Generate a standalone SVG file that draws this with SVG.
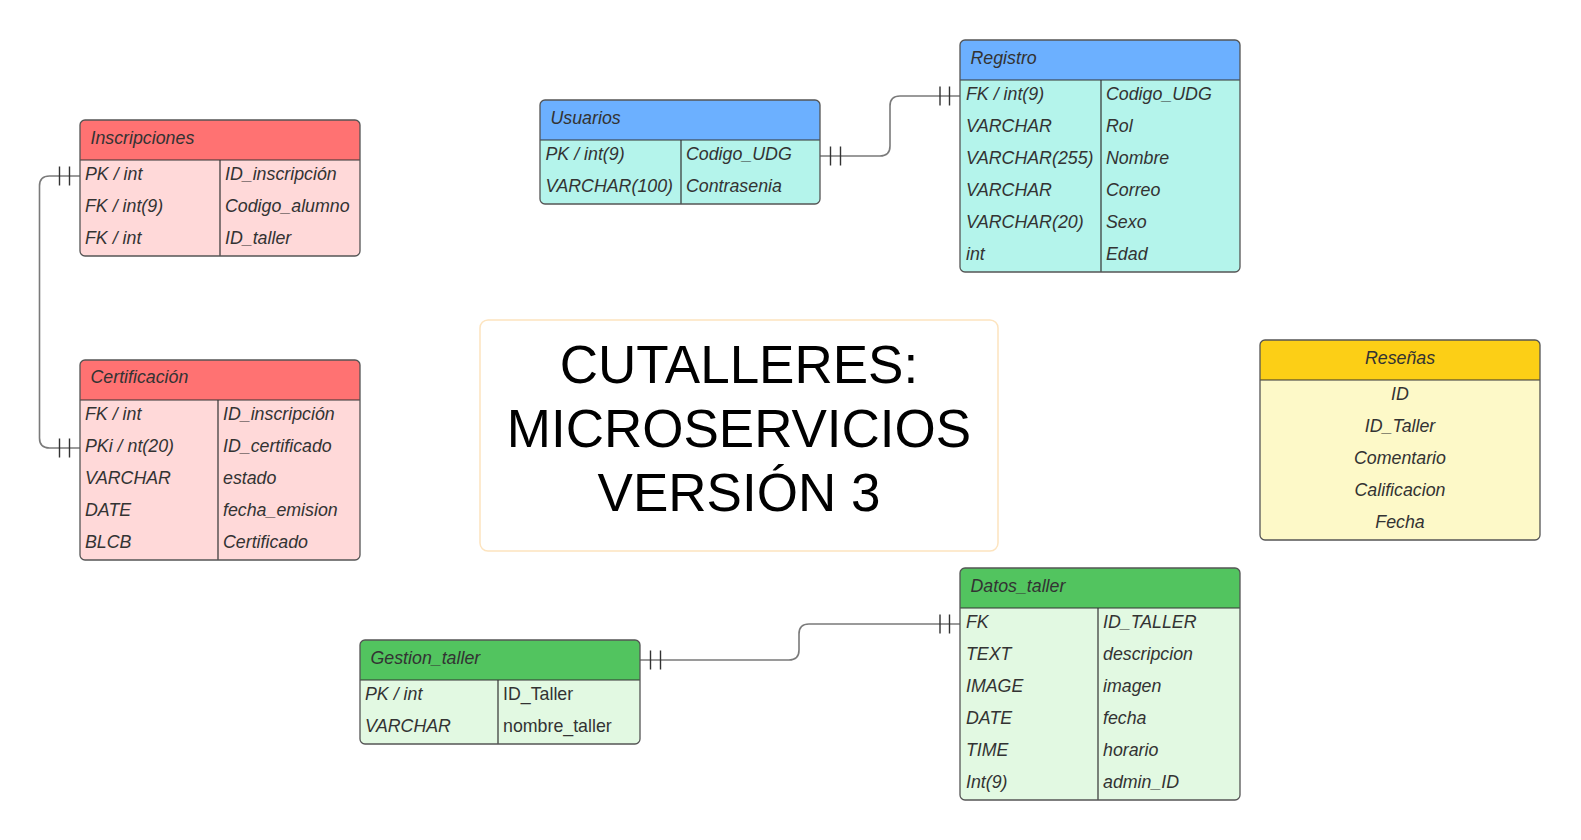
<svg xmlns="http://www.w3.org/2000/svg" width="1581" height="840" viewBox="0 0 1581 840">
<style>
.t{font-family:"Liberation Sans",Arial,sans-serif;font-size:17.8px;font-style:italic;fill:#333}
.n{font-style:normal}
.c{text-anchor:middle}
.out{fill:none;stroke:#555;stroke-width:1.3}
.ln{stroke:#333;stroke-width:1.2;fill:none}
.conn{fill:none;stroke:#7a7a7a;stroke-width:1.6}
.tick{stroke:#333;stroke-width:1.4}
.title{font-family:"Liberation Sans",Arial,sans-serif;font-size:53px;fill:#000;text-anchor:middle}
</style>
<rect width="1581" height="840" fill="#fff"/>

<g id="connectors">
<path class="conn" d="M80,176 H49.5 Q39.5,176 39.5,186 V438 Q39.5,448 49.5,448 H80"/>
<path class="tick" d="M59.5,166.5 V185.5 M69.5,166.5 V185.5 M59.5,438.5 V457.5 M69.5,438.5 V457.5"/>
<path class="conn" d="M820,156 H880 Q890,156 890,146 V106 Q890,96 900,96 H960"/>
<path class="tick" d="M830.5,146.5 V165.5 M840.5,146.5 V165.5 M940,86.5 V105.5 M949.5,86.5 V105.5"/>
<path class="conn" d="M640,660 H789 Q799,660 799,650 V634 Q799,624 809,624 H960"/>
<path class="tick" d="M650.5,650.5 V669.5 M660.5,650.5 V669.5 M940,614.5 V633.5 M949.5,614.5 V633.5"/>
</g>

<g id="title">
<rect x="480" y="320" width="518" height="231" rx="8" fill="#fff" stroke="#fde4bf" stroke-width="1.5"/>
<text class="title" x="739" y="382.5">CUTALLERES:</text>
<text class="title" x="739" y="446.5">MICROSERVICIOS</text>
<text class="title" x="739" y="510.5">VERSIÓN 3</text>
</g>

<g id="inscripciones">
<rect x="80" y="120" width="280" height="136" rx="5" fill="#FFD9D9"/>
<path d="M80,160 V125 Q80,120 85,120 H355 Q360,120 360,125 V160 Z" fill="#FF7272"/>
<path class="ln" d="M80,160 H360 M220,160 V256"/>
<rect class="out" x="80" y="120" width="280" height="136" rx="5"/>
<text class="t" x="90.5" y="144">Inscripciones</text>
<text class="t" x="85" y="179.5">PK / int</text><text class="t" x="225" y="179.5">ID_inscripción</text>
<text class="t" x="85" y="211.5">FK / int(9)</text><text class="t" x="225" y="211.5">Codigo_alumno</text>
<text class="t" x="85" y="243.5">FK / int</text><text class="t" x="225" y="243.5">ID_taller</text>
</g>

<g id="certificacion">
<rect x="80" y="360" width="280" height="200" rx="5" fill="#FFD9D9"/>
<path d="M80,400 V365 Q80,360 85,360 H355 Q360,360 360,365 V400 Z" fill="#FF7272"/>
<path class="ln" d="M80,400 H360 M218,400 V560"/>
<rect class="out" x="80" y="360" width="280" height="200" rx="5"/>
<text class="t" x="90.5" y="383">Certificación</text>
<text class="t" x="85" y="419.5">FK / int</text><text class="t" x="223" y="419.5">ID_inscripción</text>
<text class="t" x="85" y="451.5">PKi / nt(20)</text><text class="t" x="223" y="451.5">ID_certificado</text>
<text class="t" x="85" y="483.5">VARCHAR</text><text class="t" x="223" y="483.5">estado</text>
<text class="t" x="85" y="515.5">DATE</text><text class="t" x="223" y="515.5">fecha_emision</text>
<text class="t" x="85" y="547.5">BLCB</text><text class="t" x="223" y="547.5">Certificado</text>
</g>

<g id="usuarios">
<rect x="540" y="100" width="280" height="104" rx="5" fill="#B4F4EB"/>
<path d="M540,140 V105 Q540,100 545,100 H815 Q820,100 820,105 V140 Z" fill="#6CB0FF"/>
<path class="ln" d="M540,140 H820 M681,140 V204"/>
<rect class="out" x="540" y="100" width="280" height="104" rx="5"/>
<text class="t" x="550.5" y="124">Usuarios</text>
<text class="t" x="545.5" y="159.5">PK / int(9)</text><text class="t" x="686" y="159.5">Codigo_UDG</text>
<text class="t" x="545.5" y="191.5">VARCHAR(100)</text><text class="t" x="686" y="191.5">Contrasenia</text>
</g>

<g id="registro">
<rect x="960" y="40" width="280" height="232" rx="5" fill="#B4F4EB"/>
<path d="M960,80 V45 Q960,40 965,40 H1235 Q1240,40 1240,45 V80 Z" fill="#6CB0FF"/>
<path class="ln" d="M960,80 H1240 M1101,80 V272"/>
<rect class="out" x="960" y="40" width="280" height="232" rx="5"/>
<text class="t" x="970.5" y="64">Registro</text>
<text class="t" x="966" y="99.5">FK / int(9)</text><text class="t" x="1106" y="99.5">Codigo_UDG</text>
<text class="t" x="966" y="131.5">VARCHAR</text><text class="t" x="1106" y="131.5">Rol</text>
<text class="t" x="966" y="163.5">VARCHAR(255)</text><text class="t" x="1106" y="163.5">Nombre</text>
<text class="t" x="966" y="195.5">VARCHAR</text><text class="t" x="1106" y="195.5">Correo</text>
<text class="t" x="966" y="227.5">VARCHAR(20)</text><text class="t" x="1106" y="227.5">Sexo</text>
<text class="t" x="966" y="259.5">int</text><text class="t" x="1106" y="259.5">Edad</text>
</g>

<g id="resenas">
<rect x="1260" y="340" width="280" height="200" rx="5" fill="#FDF9C8"/>
<path d="M1260,380 V345 Q1260,340 1265,340 H1535 Q1540,340 1540,345 V380 Z" fill="#FCCF16"/>
<path class="ln" d="M1260,380 H1540"/>
<rect class="out" x="1260" y="340" width="280" height="200" rx="5"/>
<text class="t c" x="1400" y="364">Reseñas</text>
<text class="t c" x="1400" y="399.5">ID</text>
<text class="t c" x="1400" y="431.5">ID_Taller</text>
<text class="t c" x="1400" y="463.5">Comentario</text>
<text class="t c" x="1400" y="495.5">Calificacion</text>
<text class="t c" x="1400" y="527.5">Fecha</text>
</g>

<g id="gestion_taller">
<rect x="360" y="640" width="280" height="104" rx="5" fill="#E2F9E2"/>
<path d="M360,680 V645 Q360,640 365,640 H635 Q640,640 640,645 V680 Z" fill="#52C45F"/>
<path class="ln" d="M360,680 H640 M498,680 V744"/>
<rect class="out" x="360" y="640" width="280" height="104" rx="5"/>
<text class="t" x="370.5" y="664">Gestion_taller</text>
<text class="t" x="365" y="699.5">PK / int</text><text class="t n" x="503" y="699.5">ID_Taller</text>
<text class="t" x="365" y="731.5">VARCHAR</text><text class="t n" x="503" y="731.5">nombre_taller</text>
</g>

<g id="datos_taller">
<rect x="960" y="568" width="280" height="232" rx="5" fill="#E2F9E2"/>
<path d="M960,608 V573 Q960,568 965,568 H1235 Q1240,568 1240,573 V608 Z" fill="#52C45F"/>
<path class="ln" d="M960,608 H1240 M1098,608 V800"/>
<rect class="out" x="960" y="568" width="280" height="232" rx="5"/>
<text class="t" x="970.5" y="592">Datos_taller</text>
<text class="t" x="966" y="627.5">FK</text><text class="t" x="1103" y="627.5">ID_TALLER</text>
<text class="t" x="966" y="659.5">TEXT</text><text class="t" x="1103" y="659.5">descripcion</text>
<text class="t" x="966" y="691.5">IMAGE</text><text class="t" x="1103" y="691.5">imagen</text>
<text class="t" x="966" y="723.5">DATE</text><text class="t" x="1103" y="723.5">fecha</text>
<text class="t" x="966" y="755.5">TIME</text><text class="t" x="1103" y="755.5">horario</text>
<text class="t" x="966" y="787.5">Int(9)</text><text class="t" x="1103" y="787.5">admin_ID</text>
</g>
</svg>
